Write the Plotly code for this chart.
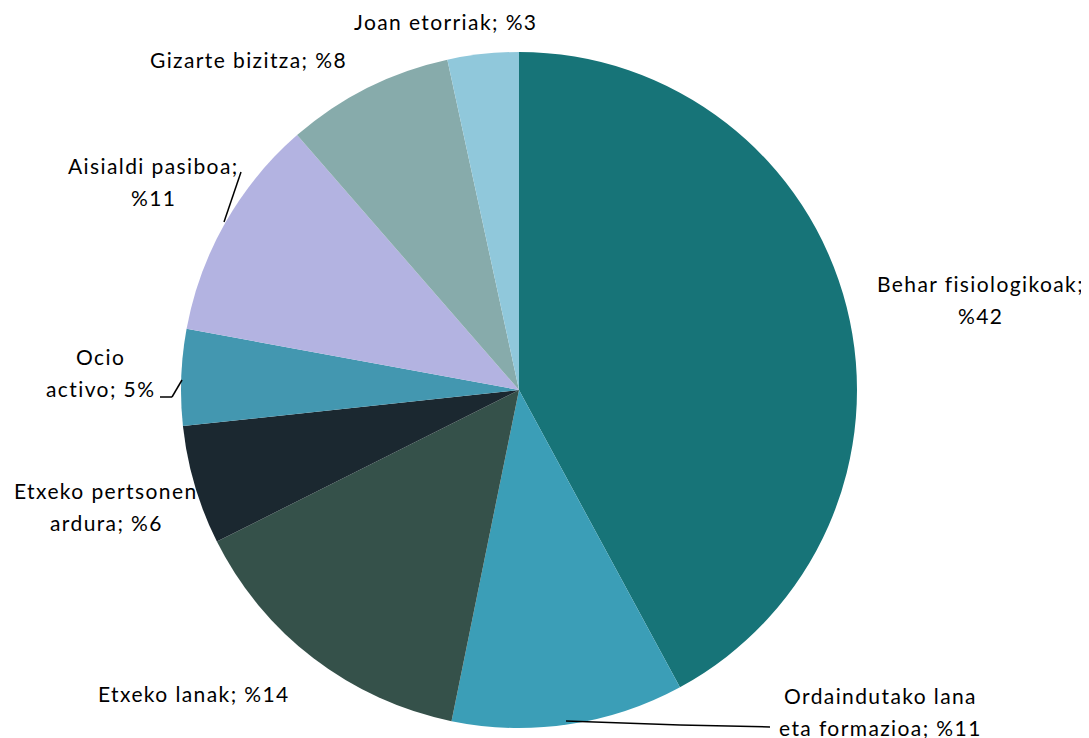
import plotly.graph_objects as go

categories = ["Behar fisiologikoak", "Ordaindutako lana eta formazioa", "Etxeko lanak",
              "Etxeko pertsonen ardura", "Ocio activo", "Aisialdi pasiboa",
              "Gizarte bizitza", "Joan etorriak"]
values = [42.1, 11.1, 14.4, 5.7, 4.6, 10.7, 8.0, 3.4]
colors = ["#177478", "#3B9EB7", "#35514A", "#1B2830", "#4397B0", "#B3B3E1", "#87ABAB", "#90C8DB"]

# label text lines (per category)
label_lines = [
    ["Behar fisiologikoak;", "%{p}"],
    ["Ordaindutako lana", "eta formazioa; %{p}"],
    ["Etxeko lanak; %{p}"],
    ["Etxeko pertsonen", "ardura; %{p}"],
    ["Ocio", "activo; {p}%"],
    ["Aisialdi pasiboa;", "%{p}"],
    ["Gizarte bizitza; %{p}"],
    ["Joan etorriak; %{p}"],
]
# label anchor positions in screen pixels (x center, y of first line)
label_pos = [(980, 283), (880, 695), (194, 693), (106, 490), (100, 356), (153, 165), (248, 60), (445, 22)]

W, H = 1089, 738
OFF = 8  # page body margin
cx, cy, r = 519 - OFF, 390 - OFF, 338

def fx(x):
    return (x - OFF) / W

def fy(y):
    return 1 - (y - OFF) / H

fig = go.Figure(go.Pie(
    labels=categories, values=values, sort=False, direction="clockwise", rotation=0,
    marker=dict(colors=colors, line=dict(width=0)),
    textinfo="none", hoverinfo="label+percent", showlegend=False,
    domain=dict(x=[(cx - r) / W, (cx + r) / W], y=[(H - cy - r) / H, (H - cy + r) / H]),
))

total = sum(values)
line_gap = 32
for lines, (lx, ly), v in zip(label_lines, label_pos, values):
    p = str(round(v / total * 100))
    for i, t in enumerate(lines):
        txt = t.replace("%{p}", "%" + p).replace("{p}", p)
        fig.add_annotation(x=fx(lx), y=fy(ly + i * line_gap), xref="paper", yref="paper",
                           text='<span style="letter-spacing:1.4px">' + txt + '</span>',
                           showarrow=False, xanchor="center", yanchor="middle",
                           font=dict(family="Lato", size=21, color="#000000"))

def px_line(x0, y0, x1, y1):
    fig.add_shape(type="line", xref="paper", yref="paper",
                  x0=fx(x0), y0=fy(y0), x1=fx(x1), y1=fy(y1),
                  line=dict(color="#000000", width=1.5))

px_line(241, 172, 224, 222)
px_line(160, 397, 172, 397)
px_line(172, 397, 182, 380)
px_line(566, 721, 680, 725)
px_line(680, 725, 770, 727)

fig.update_layout(width=W, height=H, margin=dict(l=0, r=0, t=0, b=0),
                  paper_bgcolor="white", plot_bgcolor="white")
fig.write_html("out.html")
